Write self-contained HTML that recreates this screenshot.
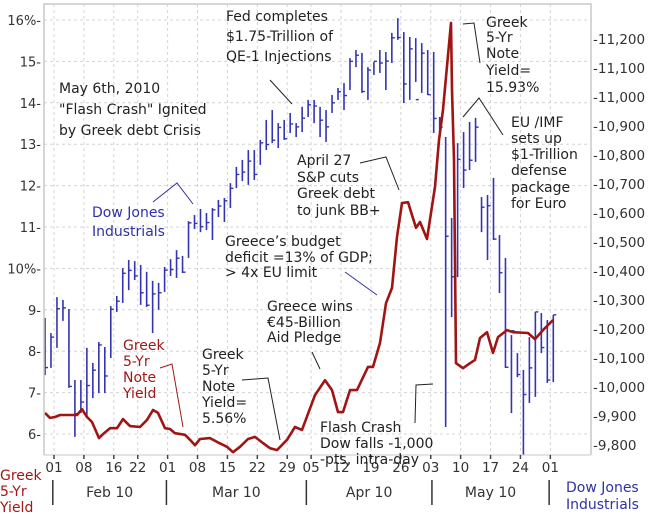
<!DOCTYPE html>
<html><head><meta charset="utf-8">
<style>
html,body{margin:0;padding:0;background:#fff;}
svg{display:block;font-family:"DejaVu Sans","Liberation Sans",sans-serif;}
.ann{font-size:14px;fill:#222;}
.axl{font-size:13px;fill:#333;}
</style></head>
<body>
<svg id="chart" width="654" height="515" viewBox="0 0 654 515" xmlns="http://www.w3.org/2000/svg">
<rect x="0" y="0" width="654" height="515" fill="#fff"/>
<g id="grid"></g>
<g id="dow"></g>
<g id="yield"></g>
<g id="axes"></g>
<g id="ann">
 <text class="ann"><tspan x="226" y="21">Fed completes</tspan><tspan x="226" y="41">$1.75-Trillion of</tspan><tspan x="226" y="61">QE-1 Injections</tspan></text>
 <polyline points="270,80 292,104" fill="none" stroke="#222" stroke-width="1"/>
 <text class="ann"><tspan x="59" y="93">May 6th, 2010</tspan><tspan x="59" y="114">"Flash Crash" Ignited</tspan><tspan x="59" y="135">by Greek debt Crisis</tspan></text>
 <text class="ann" style="fill:#3030a8"><tspan x="92" y="217">Dow Jones</tspan><tspan x="92" y="236">Industrials</tspan></text>
 <polyline points="153,202 177,183 193,204" fill="none" stroke="#3030a8" stroke-width="1"/>
 <text class="ann"><tspan x="297" y="165">April 27</tspan><tspan x="297" y="182">S&amp;P cuts</tspan><tspan x="297" y="198">Greek debt</tspan><tspan x="297" y="215">to junk BB+</tspan></text>
 <polyline points="360,163 386,157 399,190" fill="none" stroke="#222" stroke-width="1"/>
 <text class="ann"><tspan x="225" y="246">Greece’s budget</tspan><tspan x="225" y="262">deficit =13% of GDP;</tspan><tspan x="225" y="277">&gt; 4x EU limit</tspan></text>
 <polyline points="345,272 377,295" fill="none" stroke="#3030a8" stroke-width="1"/>
 <text class="ann"><tspan x="267" y="311">Greece wins</tspan><tspan x="267" y="327">€45-Billion</tspan><tspan x="267" y="342">Aid Pledge</tspan></text>
 <polyline points="312,352 320,369" fill="none" stroke="#222" stroke-width="1"/>
 <text class="ann" style="fill:#a01818"><tspan x="123" y="350">Greek</tspan><tspan x="123" y="366">5-Yr</tspan><tspan x="123" y="382">Note</tspan><tspan x="123" y="398">Yield</tspan></text>
 <polyline points="160,368 172,364 183,427" fill="none" stroke="#a01818" stroke-width="1"/>
 <text class="ann"><tspan x="202" y="359">Greek</tspan><tspan x="202" y="375">5-Yr</tspan><tspan x="202" y="391">Note</tspan><tspan x="202" y="407">Yield=</tspan><tspan x="202" y="423">5.56%</tspan></text>
 <polyline points="242,380 268,378 280,440" fill="none" stroke="#222" stroke-width="1"/>
 <text class="ann"><tspan x="320" y="432">Flash Crash</tspan><tspan x="320" y="448">Dow falls -1,000</tspan><tspan x="320" y="464">-pts, intra-day</tspan></text>
 <polyline points="415,423 416,385 433,384" fill="none" stroke="#222" stroke-width="1"/>
 <text class="ann"><tspan x="486" y="27">Greek</tspan><tspan x="486" y="42">5-Yr</tspan><tspan x="486" y="58">Note</tspan><tspan x="486" y="75">Yield=</tspan><tspan x="486" y="92">15.93%</tspan></text>
 <polyline points="463,24 474,23 480,63" fill="none" stroke="#222" stroke-width="1"/>
 <text class="ann"><tspan x="511" y="127">EU /IMF</tspan><tspan x="511" y="143">sets up</tspan><tspan x="511" y="159">$1-Trillion</tspan><tspan x="511" y="175">defense</tspan><tspan x="511" y="192">package</tspan><tspan x="511" y="208">for Euro</tspan></text>
 <polyline points="463,117 479,98 503,135" fill="none" stroke="#222" stroke-width="1"/>
</g>
</svg>
<script>
// ---- data ----
const dowHigh=[10238,10186,10310,10300,10269,10024,10024,10135,10083,10155,10138,10279,10314,10410,10438,10434,10421,10397,10366,10359,10414,10441,10472,10452,10572,10593,10614,10600,10617,10645,10652,10703,10759,10783,10817,10817,10852,10921,10955,10910,10921,10945,10910,10966,10990,10990,10966,10955,11007,11031,11048,11134,11162,11152,11103,11121,11162,11155,11221,11272,11224,11207,11203,11186,11162,11155,10931,10862,10583,10841,10879,10914,10928,10655,10662,10721,10524,10445,10179,10117,10059,10172,10259,10255,10231,10248];
const dowLow=[10041,10066,10135,10228,9997,9828,9910,9897,9962,9979,9979,10100,10259,10290,10334,10369,10283,10276,10186,10266,10328,10383,10376,10393,10445,10545,10534,10541,10507,10586,10569,10617,10686,10710,10697,10714,10766,10817,10841,10824,10852,10876,10862,10879,10931,10910,10862,10845,10945,10990,10955,11024,11103,11014,10990,11076,11083,11024,11117,11197,10979,10990,11052,11014,11007,10876,10876,9862,10241,10379,10686,10748,10776,10534,10438,10507,10324,10066,9910,10034,9766,9945,9966,10117,10014,10017];
const dowClose=[10067,10172,10270,10273,10002,9908,9948,10005,10058,10145,10038,10268,10296,10392,10402,10383,10325,10282,10321,10325,10403,10405,10444,10396,10566,10564,10553,10567,10611,10624,10642,10685,10733,10741,10779,10733,10842,10836,10851,10895,10856,10907,10897,10927,10973,10969,10920,10897,10980,11018,11005,11123,11144,11019,11093,11123,11117,11124,11204,11205,11045,11166,10991,11151,11008,10926,10896,10520,10380,10785,10748,10782,10896,10620,10625,10510,10394,10068,10194,10043,9974,10066,10259,10136,10024,10249];
const yieldIdx=[0,0.84,1.67,2.5,5.35,6.19,7.02,7.86,9.03,9.87,10.87,12.04,13.04,14.21,15.89,17.06,18.06,18.9,20.07,20.9,21.74,23.41,24.25,25.08,25.92,27.59,28.76,30.43,31.44,32.61,33.95,35.12,36.45,37.6,38.8,40.47,41.8,42.98,45.15,46.82,48,49,49.83,51,52.17,54.01,54.85,56.02,57.02,58.03,58.86,59.7,60.7,62.04,62.71,63.88,65.22,65.89,66.56,67.39,67.89,68.06,68.39,68.73,69.9,71.07,71.91,72.74,73.91,74.92,75.75,77.26,78.26,80.77,81.94,83.28,84.95];
const yieldVal=[6.51,6.39,6.41,6.46,6.46,6.60,6.41,6.29,5.90,6.02,6.14,6.14,6.36,6.19,6.17,6.34,6.58,6.51,6.14,6.12,6.02,5.98,5.86,5.73,5.88,5.90,5.81,5.69,5.56,5.69,5.88,5.93,5.78,5.66,5.61,5.86,6.17,6.10,6.94,7.30,7.06,6.53,6.53,7.06,7.06,7.62,7.62,8.20,9.16,9.53,10.76,11.58,11.60,10.98,11.12,10.71,11.97,13.10,13.83,15.15,15.93,14.31,12.62,7.71,7.59,7.71,7.79,8.32,8.46,7.96,8.34,8.51,8.46,8.44,8.29,8.51,8.75];
const leftTicks=[16,15,14,13,12,11,10,9,8,7,6];
const leftTickLabels=["16%","15","14","13","12","11","10%","9","8","7","6"];
const rightTicks=[11200,11100,11000,10900,10800,10700,10600,10500,10400,10300,10200,10100,10000,9900,9800];
const rightTickLabels=["11,200","11,100","11,000","10,900","10,800","10,700","10,600","10,500","10,400","10,300","10,200","10,100","10,000","9,900","9,800"];
const dateTickDays=[0,5,10,14,19,24,29,34,39,43,48,53,58,63,68,73,78,83];
const dateTickLabels=["01","08","16","22","01","08","15","22","29","05","12","19","26","03","10","17","24","01"];
const monthLabels=["Feb 10","Mar 10","Apr 10","May 10"];
const monthStartDays=[-0.2,18.8,42.2,63.2,82.8];

// ---- scales ----
const PL=44,PR=591,PT=4,PB=455;
const yL=v=>434-(v-6)*41.4;
const yR=v=>39+(11200-v)*0.29;
const xBar=i=>45+i*5.98;
const xDay=d=>54+d*5.98;
const NS='http://www.w3.org/2000/svg';
function mk(tag,attrs,parent,txt){const e=document.createElementNS(NS,tag);for(const k in attrs)e.setAttribute(k,attrs[k]);if(txt!==undefined)e.textContent=txt;parent.appendChild(e);return e;}
const grid=document.getElementById('grid'),dow=document.getElementById('dow'),yl=document.getElementById('yield'),axes=document.getElementById('axes');

leftTicks.forEach(v=>{const l=mk('line',{x1:PL,x2:PR,y1:yL(v),y2:yL(v),stroke:'#d4d4d4','stroke-dasharray':'3,3'},grid);

});
dateTickDays.forEach(d=>{const l=mk('line',{x1:xDay(d),x2:xDay(d),y1:PT,y2:PB,stroke:'#d4d4d4','stroke-dasharray':'3,3'},grid);

});

let f=mk('polyline',{points:`${PL},${PB} ${PL},${PT} ${PR},${PT} ${PR},${PB}`,fill:'none',stroke:'#c8c8c8','stroke-width':1.5},axes);


let xb=mk('line',{x1:PL,x2:PR,y1:PB,y2:PB,stroke:'#c8c8c8','stroke-width':1},axes);



dowHigh.forEach((h,i)=>{const x=xBar(i);
 const b=mk('line',{x1:x,x2:x,y1:yR(h),y2:yR(dowLow[i]),stroke:'#3434b0','stroke-width':1.6},dow);
 
 
 const c=mk('line',{x1:x,x2:x+3,y1:yR(dowClose[i]),y2:yR(dowClose[i]),stroke:'#3434b0','stroke-width':1.4},dow);
 
 });

const pl=mk('polyline',{points:yieldIdx.map((d,i)=>xBar(d).toFixed(1)+','+yL(yieldVal[i]).toFixed(1)).join(' '),fill:'none',stroke:'#a01414','stroke-width':2.6,'stroke-linejoin':'round'},yl);



leftTicks.forEach((v,i)=>{const t=mk('text',{x:41,y:yL(v)+5,'text-anchor':'end',class:'axl'},axes,leftTickLabels[i]+'-');

});
rightTicks.forEach((v,i)=>{const t=mk('text',{x:593,y:yR(v)+5,class:'axl',style:'font-size:13.5px'},axes,'-'+rightTickLabels[i]);

});
dateTickDays.forEach((d,i)=>{const x=xDay(d);
 const tm=mk('line',{x1:x,x2:x,y1:PB,y2:PB+4,stroke:'#444','stroke-width':1.5},axes);
 
 
 const t=mk('text',{x:x,y:472,'text-anchor':'middle',class:'axl',style:'font-size:13.5px'},axes,dateTickLabels[i]);
 
 });
monthStartDays.forEach(d=>{const s=mk('line',{x1:xDay(d),x2:xDay(d),y1:480,y2:505,stroke:'#333','stroke-width':1.5},axes);
 
 });
monthLabels.forEach((m,i)=>{const cx=(xDay(monthStartDays[i])+xDay(monthStartDays[i+1]))/2;
 const t=mk('text',{x:cx,y:497,'text-anchor':'middle',class:'axl',style:'font-size:14px'},axes,m);
 
 });
const lt=mk('text',{class:'axl',style:'fill:#a01818;font-size:14px'},axes);


['Greek','5-Yr','Yield'].forEach((s,i)=>mk('tspan',{x:0,y:480+i*16},lt,s));
const rt=mk('text',{class:'axl',style:'fill:#3030a8;font-size:14px'},axes);


['Dow Jones','Industrials'].forEach((s,i)=>mk('tspan',{x:566,y:492+i*17},rt,s));
</script>
</body></html>
